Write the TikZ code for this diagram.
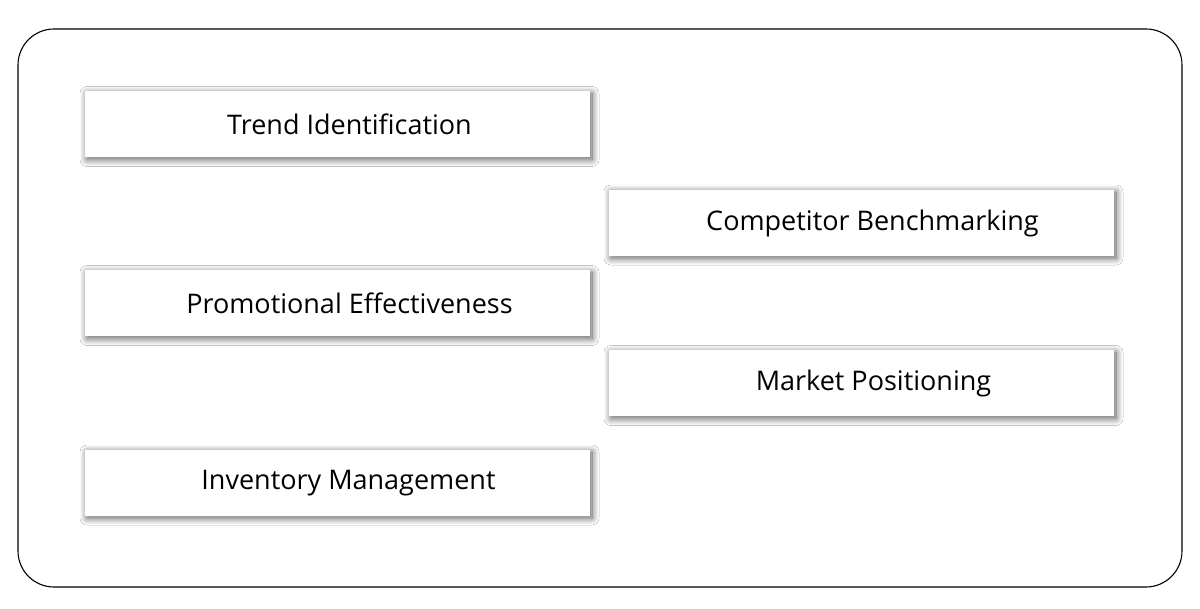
\documentclass[tikz,border=0pt]{standalone}
\usepackage{fontspec}
\setmainfont{Open Sans}
\usetikzlibrary{shadows.blur}
\tikzset{
  itembox/.style={draw=none, fill=white, minimum width=505pt, minimum height=66pt,
    blur shadow={shadow xshift=2pt, shadow yshift=-2pt, shadow scale=1, shadow blur steps=14, shadow blur radius=7pt, shadow opacity=65},
    inner sep=0pt, outer sep=0pt},
  itemtext/.style={font=\fontsize{27}{32}\selectfont, text=black, anchor=center}
}
\begin{document}
\begin{tikzpicture}[x=1pt,y=-1pt]
\useasboundingbox (0,0) rectangle (1200,609);
\draw[line width=1.1pt, rounded corners=36pt, fill=white] (18,29) rectangle (1182,587);
\node[itembox] (b1) at (337.5,124.5) {};
\node[itembox] (b2) at (861.5,223) {};
\node[itembox] (b3) at (337.5,303.5) {};
\node[itembox] (b4) at (861.5,383.5) {};
\node[itembox] (b5) at (337.5,483) {};
\node[itemtext] (t1) at ([xshift=12pt]b1.center) {Trend Identification};
\node[itemtext] (t2) at ([xshift=11pt]b2.center) {Competitor Benchmarking};
\node[itemtext] (t3) at ([xshift=12pt]b3.center) {Promotional Effectiveness};
\node[itemtext] (t4) at ([xshift=12pt]b4.center) {Market Positioning};
\node[itemtext] (t5) at ([xshift=11pt]b5.center) {Inventory Management};
\end{tikzpicture}
\end{document}
